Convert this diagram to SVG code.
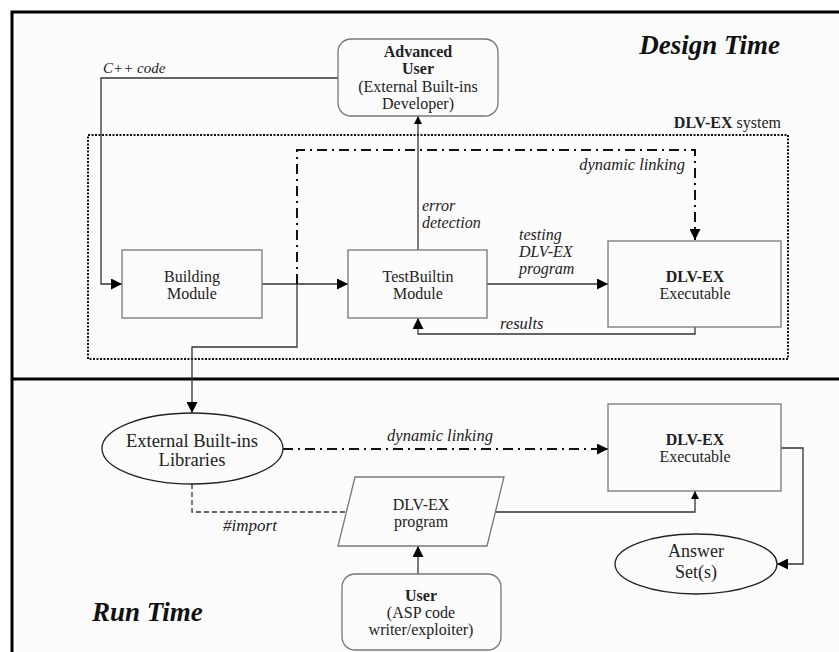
<svg xmlns="http://www.w3.org/2000/svg" width="839" height="652" viewBox="0 0 839 652">
<style>
  text { font-family: "Liberation Serif", "DejaVu Serif", serif; font-size: 16px; fill: #222; }
  .b { font-weight: bold; }
  .i { font-style: italic; font-size: 16.5px; }
  .i2 { font-style: italic; font-size: 16px; }
  .big { font-size: 18.5px; }
  .title { font-weight: bold; font-style: italic; font-size: 27px; fill: #111; }
  .box { fill: none; stroke: #777; stroke-width: 1.3; }
  .ln { fill: none; stroke: #333; stroke-width: 1.3; }
  .dd { fill: none; stroke: #111; stroke-width: 2; stroke-dasharray: 10 5 2 5; }
  .dash { fill: none; stroke: #333; stroke-width: 1.3; stroke-dasharray: 5 3; }
  .frame { fill: none; stroke: #000; stroke-width: 3; }
</style>
<defs>
  <marker id="ah" viewBox="0 0 10 10" refX="10" refY="5" markerWidth="12" markerHeight="11" markerUnits="userSpaceOnUse" orient="auto">
    <path d="M0,0 L10,5 L0,10 z" fill="#000"/>
  </marker>
  <marker id="ahs" viewBox="0 0 10 10" refX="10" refY="5" markerWidth="8" markerHeight="8" markerUnits="userSpaceOnUse" orient="auto">
    <path d="M0,0 L10,5 L0,10 z" fill="#000"/>
  </marker>
</defs>
<rect x="0" y="0" width="839" height="652" fill="#fff"/>
<rect x="12" y="12" width="840" height="660" fill="#fcfcfc"/>
<g id="frame">
  <path class="frame" d="M12,680 L12,12 L839,12"/>
  <path class="frame" d="M12,379 L839,379"/>
</g>
<g id="system-boundary">
  <rect x="88" y="135" width="700" height="224" fill="none" stroke="#111" stroke-width="2" stroke-dasharray="2 1.5"/>
  <text x="781" y="128" text-anchor="end"><tspan class="b">DLV-EX</tspan> system</text>
</g>
<text class="title" x="780" y="54" text-anchor="end">Design Time</text>
<text class="title" x="92" y="621">Run Time</text>

<g id="connectors">
  <path class="ln" d="M338,78 L101,78 L101,284 L122,284" marker-end="url(#ah)"/>
  <text class="i" x="103" y="73" style="font-size:15px">C++ code</text>
  <path class="ln" d="M262,284 L348,284" marker-end="url(#ah)"/>
  <path class="ln" d="M297,284 L297,347 L192,347 L192,413" marker-end="url(#ah)"/>
  <path class="dd" d="M297,284 L297,150 L695,150 L695,240" marker-end="url(#ah)"/>
  <text class="i" x="685" y="170" text-anchor="end">dynamic linking</text>
  <path class="ln" d="M418,250 L418,116" marker-end="url(#ahs)"/>
  <text class="i2" x="422" y="211">error</text>
  <text class="i2" x="422" y="228">detection</text>
  <path class="ln" d="M487,284 L608,284" marker-end="url(#ah)"/>
  <text class="i2" x="519" y="240">testing</text>
  <text class="i2" x="519" y="257">DLV-EX</text>
  <text class="i2" x="519" y="274">program</text>
  <path class="ln" d="M695,327 L695,334 L418,334 L418,318" marker-end="url(#ah)"/>
  <text class="i" x="500" y="329">results</text>
  <path class="dd" d="M283,449 L608,449" marker-end="url(#ah)"/>
  <text class="i" x="440" y="441" text-anchor="middle">dynamic linking</text>
  <path class="dash" d="M192,484 L192,512 L346,512"/>
  <text class="i" x="250" y="531" text-anchor="middle" style="font-size:17px">#import</text>
  <path class="ln" d="M496,512 L695,512 L695,491" marker-end="url(#ahs)"/>
  <path class="ln" d="M418,574 L418,546" marker-end="url(#ah)"/>
  <path class="ln" d="M781,448 L803,448 L803,564 L777,564" marker-end="url(#ah)"/>
</g>

<g id="advanced-user">
  <rect class="box" x="338" y="39" width="160" height="77" rx="13"/>
  <text class="b" x="418" y="57" text-anchor="middle">Advanced</text>
  <text class="b" x="418" y="74" text-anchor="middle">User</text>
  <text x="418" y="92" text-anchor="middle">(External Built-ins</text>
  <text x="418" y="109" text-anchor="middle">Developer)</text>
</g>
<g id="building-module">
  <rect class="box" x="122" y="250" width="140" height="68" fill="#fcfcfc"/>
  <text x="192" y="282" text-anchor="middle">Building</text>
  <text x="192" y="299" text-anchor="middle">Module</text>
</g>
<g id="testbuiltin-module">
  <rect class="box" x="348" y="250" width="139" height="68"/>
  <text x="418" y="282" text-anchor="middle">TestBuiltin</text>
  <text x="418" y="299" text-anchor="middle">Module</text>
</g>
<g id="exec-design">
  <rect class="box" x="608" y="241" width="173" height="86"/>
  <text class="b" x="695" y="282" text-anchor="middle">DLV-EX</text>
  <text x="695" y="299" text-anchor="middle">Executable</text>
</g>
<g id="ext-libraries">
  <ellipse cx="192.5" cy="448.5" rx="90.5" ry="35.5" fill="#fcfcfc" stroke="#222" stroke-width="1.3"/>
  <text class="big" x="192" y="447" text-anchor="middle">External Built-ins</text>
  <text class="big" x="192" y="466" text-anchor="middle">Libraries</text>
</g>
<g id="exec-run">
  <rect class="box" x="608" y="404" width="173" height="87"/>
  <text class="b" x="695" y="445" text-anchor="middle">DLV-EX</text>
  <text x="695" y="462" text-anchor="middle">Executable</text>
</g>
<g id="dlvex-program">
  <polygon class="box" points="355,477 504,477 487,546 338,546"/>
  <text x="421" y="510" text-anchor="middle">DLV-EX</text>
  <text x="421" y="527" text-anchor="middle">program</text>
</g>
<g id="user">
  <rect class="box" x="342" y="574" width="159" height="76" rx="13"/>
  <text class="b" x="421" y="601" text-anchor="middle">User</text>
  <text x="421" y="618" text-anchor="middle">(ASP code</text>
  <text x="421" y="635" text-anchor="middle">writer/exploiter)</text>
</g>
<g id="answer-sets">
  <ellipse cx="696" cy="564" rx="81" ry="30" fill="#fcfcfc" stroke="#222" stroke-width="1.3"/>
  <text class="big" x="696" y="557" text-anchor="middle" style="font-size:18px">Answer</text>
  <text class="big" x="696" y="578" text-anchor="middle" style="font-size:18px">Set(s)</text>
</g>
</svg>
